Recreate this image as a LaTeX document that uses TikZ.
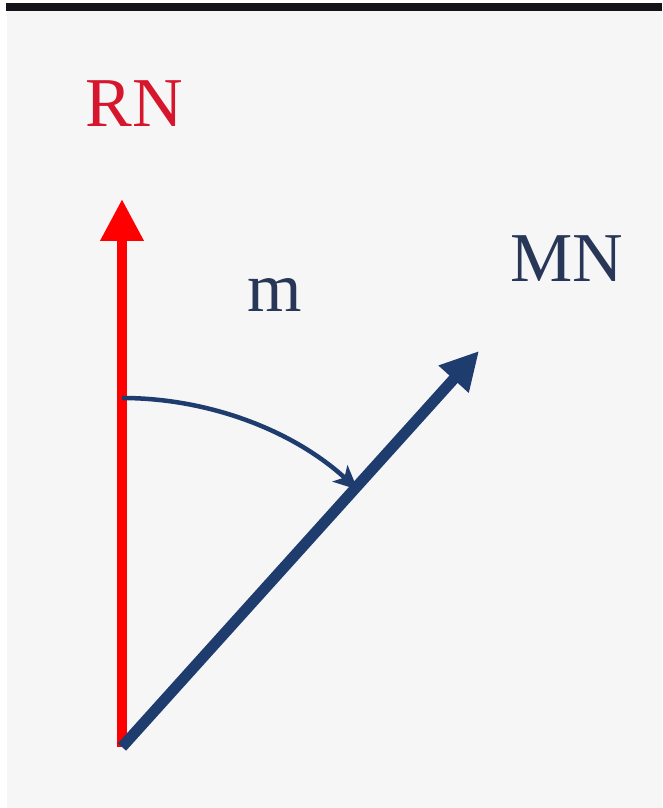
\documentclass[tikz,border=0pt]{standalone}
\usepackage{fontspec}
\setmainfont{Liberation Serif}
\usetikzlibrary{arrows.meta}
\definecolor{bggrey}{RGB}{246,246,246}
\definecolor{barblack}{RGB}{20,20,24}
\definecolor{vecred}{RGB}{255,0,0}
\definecolor{txtred}{RGB}{214,22,44}
\definecolor{vecblue}{RGB}{30,60,110}
\definecolor{txtblue}{RGB}{40,55,88}
\tikzset{
  lbl/.style={inner sep=0pt, anchor=base, font=\fontsize{70}{74}\selectfont},
  redvec/.style={draw=vecred, line width=10pt, -{Triangle[length=42pt,width=41pt]}},
  bluevec/.style={draw=vecblue, line width=11pt, -{Triangle[length=38pt,width=38pt]}},
  anglearc/.style={draw=vecblue, line width=4.5pt, -{Stealth[length=24pt,width=22pt,inset=6pt]}}
}
\begin{document}
\begin{tikzpicture}[x=1pt,y=1pt]
\useasboundingbox (0,0) rectangle (662,808);
\fill[white] (0,0) rectangle (662,808);
\fill[bggrey] (7,0) rectangle (662,797);
\fill[barblack] (6,797) rectangle (662,805);
\coordinate (O) at (122,61);
\coordinate (RT) at (122,609);
\coordinate (MT) at (479,457);
\coordinate (A) at (122,410);
\draw[redvec] (O) -- (RT);
\draw[bluevec] (O) -- (MT);
\draw[anglearc] (A) arc[start angle=90, end angle=47.5, radius=349];
\node[lbl, text=txtred] (RN) at (134,681) {RN};
\node[lbl, text=txtblue] (MN) at (567,526) {MN};
\node[lbl, text=txtblue] (m) at (275,496) {m};
\end{tikzpicture}
\end{document}
